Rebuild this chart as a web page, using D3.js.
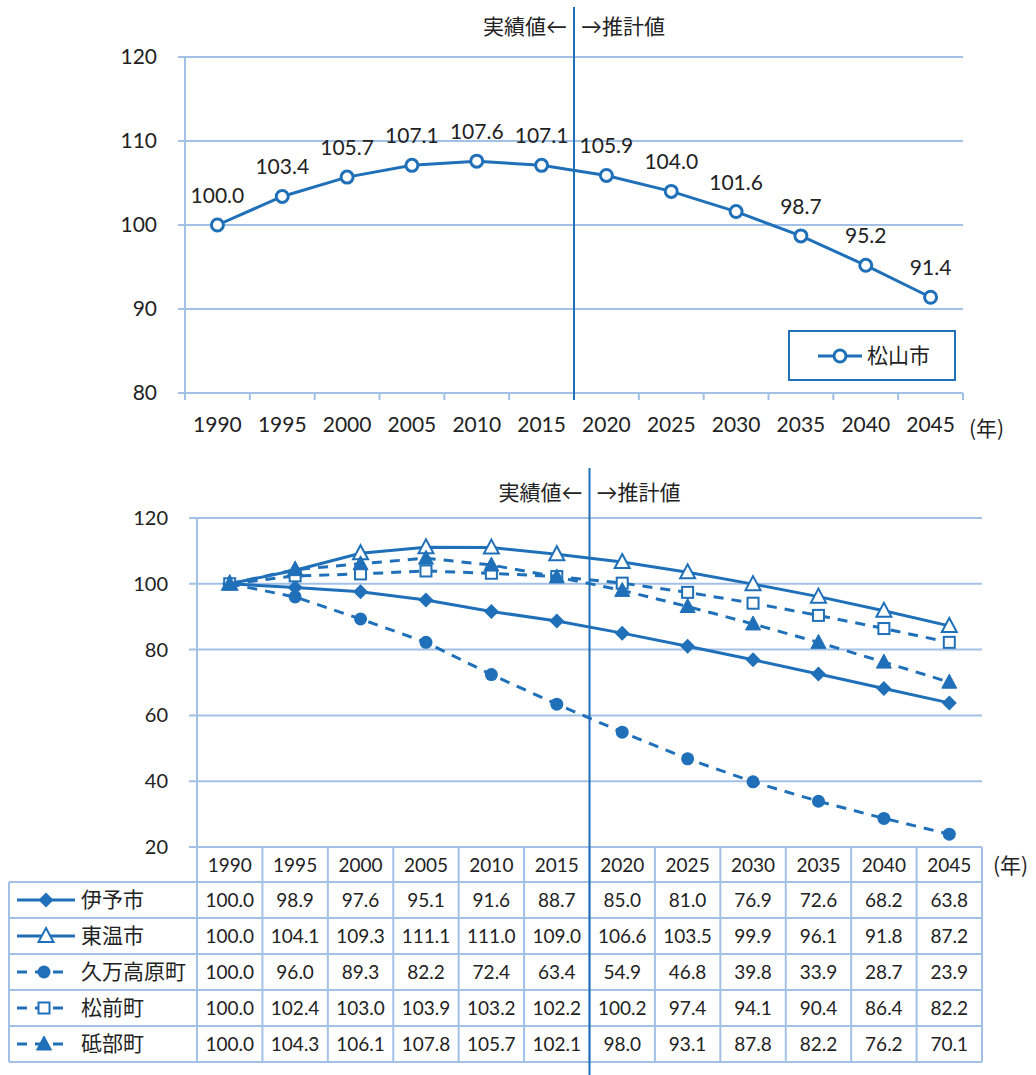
<!DOCTYPE html>
<html>
<head>
<meta charset="utf-8">
<script src="https://cdn.jsdelivr.net/npm/d3@7"></script>
<style>
  body { margin: 0; background: #fff; }
  svg { display: block; font-family: "Lato", "Noto Sans CJK JP", sans-serif; }
  text { fill: #222; }
</style>
</head>
<body>
<svg id="chart" width="1036" height="1075"></svg>
<script>
// data ------------------------------------------------------------
const years = ["1990", "1995", "2000", "2005", "2010", "2015", "2020", "2025", "2030", "2035", "2040", "2045"];
const matsuyama = [100.0, 103.4, 105.7, 107.1, 107.6, 107.1, 105.9, 104.0, 101.6, 98.7, 95.2, 91.4];

const iyo    = [100.0, 98.9, 97.6, 95.1, 91.6, 88.7, 85.0, 81.0, 76.9, 72.6, 68.2, 63.8];
const toon   = [100.0, 104.1, 109.3, 111.1, 111.0, 109.0, 106.6, 103.5, 99.9, 96.1, 91.8, 87.2];
const kuma   = [100.0, 96.0, 89.3, 82.2, 72.4, 63.4, 54.9, 46.8, 39.8, 33.9, 28.7, 23.9];
const masaki = [100.0, 102.4, 103.0, 103.9, 103.2, 102.2, 100.2, 97.4, 94.1, 90.4, 86.4, 82.2];
const tobe   = [100.0, 104.3, 106.1, 107.8, 105.7, 102.1, 98.0, 93.1, 87.8, 82.2, 76.2, 70.1];

const seriesNames = ["伊予市", "東温市", "久万高原町", "松前町", "砥部町"];
const seriesValues = [iyo, toon, kuma, masaki, tobe];
const seriesMarkers = ["diamond", "triangleOpen", "circle", "squareOpen", "triangle"];
const seriesDashed = [false, false, true, true, true];

const topTicks = [80, 90, 100, 110, 120];
const bottomTicks = [20, 40, 60, 80, 100, 120];

const blue = "#1f70b8";
const gridColor = "#a3c0e6";

const svg = d3.select("#chart");

// marker shapes ---------------------------------------------------
function drawMarker(g, type, x, y) {
  if (type === "diamond") {
    g.append("path").attr("d", `M${x},${y - 7.5}L${x + 7.5},${y}L${x},${y + 7.5}L${x - 7.5},${y}Z`)
      .attr("fill", blue);
  } else if (type === "triangle" || type === "triangleOpen") {
    const open = type === "triangleOpen";
    g.append("path").attr("d", `M${x},${y - 8}L${x + 7.5},${y + 6}L${x - 7.5},${y + 6}Z`)
      .attr("fill", open ? "#fff" : blue)
      .attr("stroke", blue).attr("stroke-width", open ? 2 : 1);
  } else if (type === "circle") {
    g.append("circle").attr("cx", x).attr("cy", y).attr("r", 6.5).attr("fill", blue);
  } else if (type === "squareOpen") {
    g.append("rect").attr("x", x - 5.5).attr("y", y - 5.5).attr("width", 11).attr("height", 11)
      .attr("fill", "#fff").attr("stroke", blue).attr("stroke-width", 2);
  } else if (type === "circleOpen") {
    g.append("circle").attr("cx", x).attr("cy", y).attr("r", 6)
      .attr("fill", "#fff").attr("stroke", blue).attr("stroke-width", 3);
  }
}

// Top chart (松山市) ----------------------------------------------
const x1 = d3.scaleBand().domain(years).range([185, 963]);
const y1 = d3.scaleLinear().domain([80, 120]).range([393, 57]);

const topG = svg.append("g");

topG.selectAll(".grid1")
  .data(topTicks)
  .enter()
  .append("line")
    .attr("x1", 178).attr("x2", 963)
    .attr("y1", d => y1(d)).attr("y2", d => y1(d))
    .attr("stroke", gridColor).attr("stroke-width", 2);

topG.append("line")
  .attr("x1", 185).attr("x2", 185).attr("y1", y1(120)).attr("y2", 400)
  .attr("stroke", gridColor).attr("stroke-width", 2);

topG.selectAll(".xtick1")
  .data(years.slice(1).concat(["end"]))
  .enter()
  .append("line")
    .attr("x1", (d, i) => 185 + x1.step() * (i + 1))
    .attr("x2", (d, i) => 185 + x1.step() * (i + 1))
    .attr("y1", y1(80)).attr("y2", 400)
    .attr("stroke", gridColor).attr("stroke-width", 2);

topG.selectAll(".ylab1")
  .data(topTicks)
  .enter()
  .append("text")
    .attr("x", 157).attr("y", d => y1(d) + 7)
    .attr("text-anchor", "end")
    .style("font-size", "21px")
    .text(d => d);

topG.selectAll(".xlab1")
  .data(years)
  .enter()
  .append("text")
    .attr("x", d => x1(d) + x1.bandwidth() / 2).attr("y", 432)
    .attr("text-anchor", "middle")
    .style("font-size", "21px")
    .text(d => d);

topG.append("text")
  .attr("x", 969).attr("y", 436)
  .style("font-family", "Noto Sans CJK JP")
  .style("font-size", "21px")
  .text("(年)");

// divider
const div1 = 185 + x1.step() * 6;
topG.append("line")
  .attr("x1", div1).attr("x2", div1).attr("y1", 7).attr("y2", 400)
  .attr("stroke", blue).attr("stroke-width", 2);
topG.append("text")
  .attr("x", div1 - 7).attr("y", 34).attr("text-anchor", "end")
  .style("font-size", "21px").text("実績値←");
topG.append("text")
  .attr("x", div1 + 7).attr("y", 34)
  .style("font-size", "21px").text("→推計値");

// line + markers
const line1 = d3.line()
  .x((d, i) => x1(years[i]) + x1.bandwidth() / 2)
  .y(d => y1(d));

topG.append("path")
  .datum(matsuyama)
  .attr("d", line1)
  .attr("fill", "none").attr("stroke", blue).attr("stroke-width", 3);

matsuyama.forEach((d, i) => {
  drawMarker(topG, "circleOpen", x1(years[i]) + x1.bandwidth() / 2, y1(d));
});

topG.selectAll(".dlab")
  .data(matsuyama)
  .enter()
  .append("text")
    .attr("x", (d, i) => x1(years[i]) + x1.bandwidth() / 2)
    .attr("y", d => y1(d) - 22)
    .attr("text-anchor", "middle")
    .style("font-size", "21px")
    .text(d => d.toFixed(1));

// legend
topG.append("rect")
  .attr("x", 789).attr("y", 331).attr("width", 166).attr("height", 49)
  .attr("fill", "#fff").attr("stroke", blue).attr("stroke-width", 2);
topG.append("line")
  .attr("x1", 818).attr("x2", 862).attr("y1", 356).attr("y2", 356)
  .attr("stroke", blue).attr("stroke-width", 3);
drawMarker(topG, "circleOpen", 840, 356);
topG.append("text")
  .attr("x", 867).attr("y", 363)
  .style("font-size", "21px").text("松山市");

// Bottom chart -----------------------------------------------------
const x2 = d3.scaleBand().domain(years).range([197, 982]);
const y2 = d3.scaleLinear().domain([20, 120]).range([847, 518]);

const botG = svg.append("g");

botG.selectAll(".grid2")
  .data(bottomTicks)
  .enter()
  .append("line")
    .attr("x1", 189).attr("x2", 982)
    .attr("y1", d => y2(d)).attr("y2", d => y2(d))
    .attr("stroke", gridColor).attr("stroke-width", 2);

botG.append("line")
  .attr("x1", 197).attr("x2", 197).attr("y1", y2(120)).attr("y2", y2(20))
  .attr("stroke", gridColor).attr("stroke-width", 2);

botG.selectAll(".ylab2")
  .data(bottomTicks)
  .enter()
  .append("text")
    .attr("x", 168).attr("y", d => y2(d) + 7)
    .attr("text-anchor", "end")
    .style("font-size", "20px")
    .text(d => d);

// data table
const rowTop = 847;
const headerH = 35;
const rowH = 36;
const tableBottom = rowTop + headerH + rowH * seriesNames.length;

const tableG = svg.append("g");

// horizontal rules
tableG.selectAll(".hrule")
  .data(d3.range(seriesNames.length + 1))
  .enter()
  .append("line")
    .attr("x1", 9).attr("x2", 982)
    .attr("y1", d => rowTop + headerH + d * rowH)
    .attr("y2", d => rowTop + headerH + d * rowH)
    .attr("stroke", gridColor).attr("stroke-width", 2);

// vertical rules
tableG.selectAll(".vrule")
  .data(d3.range(years.length + 1))
  .enter()
  .append("line")
    .attr("x1", d => 197 + x2.step() * d)
    .attr("x2", d => 197 + x2.step() * d)
    .attr("y1", rowTop).attr("y2", tableBottom)
    .attr("stroke", gridColor).attr("stroke-width", 2);

tableG.append("line")
  .attr("x1", 9).attr("x2", 9).attr("y1", rowTop + headerH).attr("y2", tableBottom)
  .attr("stroke", gridColor).attr("stroke-width", 2);

// header years
tableG.selectAll(".hyear")
  .data(years)
  .enter()
  .append("text")
    .attr("x", d => x2(d) + x2.bandwidth() / 2)
    .attr("y", rowTop + headerH / 2 + 7)
    .attr("text-anchor", "middle")
    .style("font-size", "19px")
    .text(d => d);

tableG.append("text")
  .attr("x", 993).attr("y", rowTop + headerH / 2 + 8)
  .style("font-family", "Noto Sans CJK JP")
  .style("font-size", "21px")
  .text("(年)");

// rows
seriesNames.forEach((name, s) => {
  const cy = rowTop + headerH + rowH * s + rowH / 2;
  const rowG = tableG.append("g");

  rowG.append("line")
    .attr("x1", 17).attr("x2", seriesDashed[s] ? 66 : 75)
    .attr("y1", cy).attr("y2", cy)
    .attr("stroke", blue).attr("stroke-width", 3)
    .attr("stroke-dasharray", seriesDashed[s] ? "10,8" : null);
  drawMarker(rowG, seriesMarkers[s], seriesDashed[s] ? 44 : 46, cy);

  rowG.append("text")
    .attr("x", 81).attr("y", cy + 7)
    .style("font-size", "21px")
    .text(name);

  rowG.selectAll(".cell")
    .data(seriesValues[s])
    .enter()
    .append("text")
      .attr("x", (d, i) => x2(years[i]) + x2.bandwidth() / 2)
      .attr("y", cy + 7)
      .attr("text-anchor", "middle")
      .style("font-size", "19px")
      .text(d => d.toFixed(1));
});

// series lines
const line2 = d3.line()
  .x((d, i) => x2(years[i]) + x2.bandwidth() / 2)
  .y(d => y2(d));

seriesValues.forEach((vals, s) => {
  const g = botG.append("g");
  g.append("path")
    .datum(vals)
    .attr("d", line2)
    .attr("fill", "none").attr("stroke", blue).attr("stroke-width", 3)
    .attr("stroke-dasharray", seriesDashed[s] ? "10,8" : null);
  vals.forEach((d, i) => {
    drawMarker(g, seriesMarkers[s], x2(years[i]) + x2.bandwidth() / 2, y2(d));
  });
});

// divider
const div2 = 197 + x2.step() * 6;
svg.append("line")
  .attr("x1", div2).attr("x2", div2).attr("y1", 468).attr("y2", 1075)
  .attr("stroke", blue).attr("stroke-width", 2);
svg.append("text")
  .attr("x", div2 - 7).attr("y", 500).attr("text-anchor", "end")
  .style("font-size", "21px").text("実績値←");
svg.append("text")
  .attr("x", div2 + 7).attr("y", 500)
  .style("font-size", "21px").text("→推計値");
</script>
</body>
</html>
